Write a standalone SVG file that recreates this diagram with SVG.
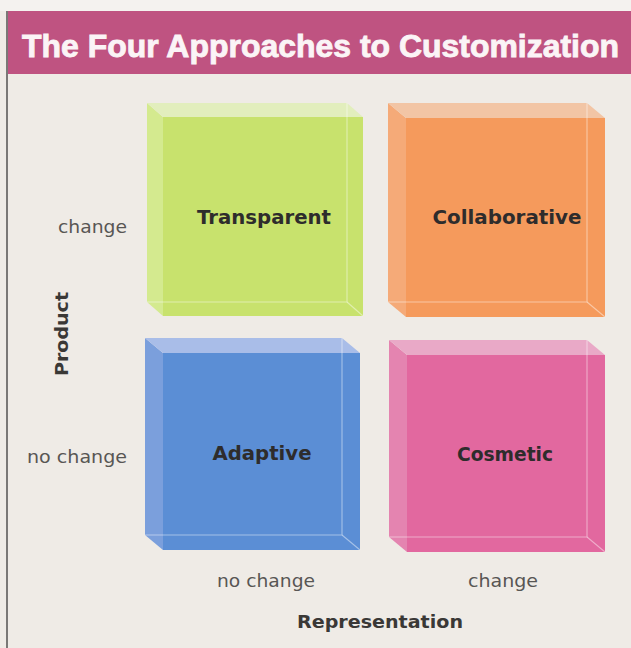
<svg xmlns="http://www.w3.org/2000/svg" width="631" height="648" viewBox="0 0 631 648">
<style>
.axis{font-family:"DejaVu Sans","Liberation Sans",sans-serif;font-size:18px;fill:#585654}
.bold{font-family:"DejaVu Sans","Liberation Sans",sans-serif;font-weight:bold;font-size:18px;fill:#3a3836}
.lbl{font-family:"DejaVu Sans","Liberation Sans",sans-serif;font-weight:bold;font-size:19px;fill:#2e2c2c;text-anchor:middle}
.edge{fill:none;stroke:#ffffff;stroke-opacity:0.45;stroke-width:1.1}
</style>
<rect x="0" y="0" width="631" height="648" fill="#efebe6"/>
<rect x="0" y="0" width="631" height="11" fill="#f4f2ef"/>
<rect x="6" y="11" width="2" height="637" fill="#7a7876"/>
<g id="title">
<rect x="8" y="11" width="623" height="63" fill="#bf5381"/>
<text x="22" y="57" font-family="Liberation Sans, Arial, sans-serif" font-weight="bold" font-size="32" fill="#fbf4f6" stroke="#fbf4f6" stroke-width="0.9" textLength="597" lengthAdjust="spacingAndGlyphs">The Four Approaches to Customization</text>
</g>
<g id="transparent">
<polygon points="147,103 163,117 163,316 147,302" fill="#d4ea8f"/>
<polygon points="147,103 347,103 363,117 163,117" fill="#e2eebd"/>
<rect x="163" y="117" width="200" height="199" fill="#c8e26d"/>
<polyline class="edge" points="347,103 347,302 147,302"/>
<line class="edge" x1="347" y1="302" x2="363" y2="316"/>
<text class="lbl" x="264" y="224" textLength="134" lengthAdjust="spacingAndGlyphs">Transparent</text>
</g>
<g id="collaborative">
<polygon points="388,103 406,118 406,317 388,302" fill="#f5aa78"/>
<polygon points="388,103 587,103 605,118 406,118" fill="#f2c5a5"/>
<rect x="406" y="118" width="199" height="199" fill="#f59a5c"/>
<polyline class="edge" points="587,103 587,302 388,302"/>
<line class="edge" x1="587" y1="302" x2="605" y2="317"/>
<text class="lbl" x="507" y="224" textLength="149" lengthAdjust="spacingAndGlyphs">Collaborative</text>
</g>
<g id="adaptive">
<polygon points="145,338 163,353 163,550 145,535" fill="#7b9fdc"/>
<polygon points="145,338 342,338 360,353 163,353" fill="#a9bde8"/>
<rect x="163" y="353" width="197" height="197" fill="#5b8ed5"/>
<polyline class="edge" points="342,338 342,535 145,535"/>
<line class="edge" x1="342" y1="535" x2="360" y2="550"/>
<text class="lbl" x="262" y="460" textLength="99" lengthAdjust="spacingAndGlyphs">Adaptive</text>
</g>
<g id="cosmetic">
<polygon points="389,340 407,355 407,552 389,537" fill="#e484b0"/>
<polygon points="389,340 587,340 605,355 407,355" fill="#e9a9c7"/>
<rect x="407" y="355" width="198" height="197" fill="#e2689f"/>
<polyline class="edge" points="587,340 587,537 389,537"/>
<line class="edge" x1="587" y1="537" x2="605" y2="552"/>
<text class="lbl" x="505" y="461" textLength="96" lengthAdjust="spacingAndGlyphs">Cosmetic</text>
</g>
<g id="axes">
<text class="axis" x="127" y="233" text-anchor="end" textLength="69" lengthAdjust="spacingAndGlyphs">change</text>
<text class="axis" x="127" y="463" text-anchor="end" textLength="100" lengthAdjust="spacingAndGlyphs">no change</text>
<text class="bold" transform="translate(68,334) rotate(-90)" text-anchor="middle" textLength="84" lengthAdjust="spacingAndGlyphs">Product</text>
<text class="axis" x="266" y="587" text-anchor="middle" textLength="98" lengthAdjust="spacingAndGlyphs">no change</text>
<text class="axis" x="503" y="587" text-anchor="middle" textLength="70" lengthAdjust="spacingAndGlyphs">change</text>
<text class="bold" x="380" y="628" text-anchor="middle" textLength="166" lengthAdjust="spacingAndGlyphs">Representation</text>
</g>
</svg>
